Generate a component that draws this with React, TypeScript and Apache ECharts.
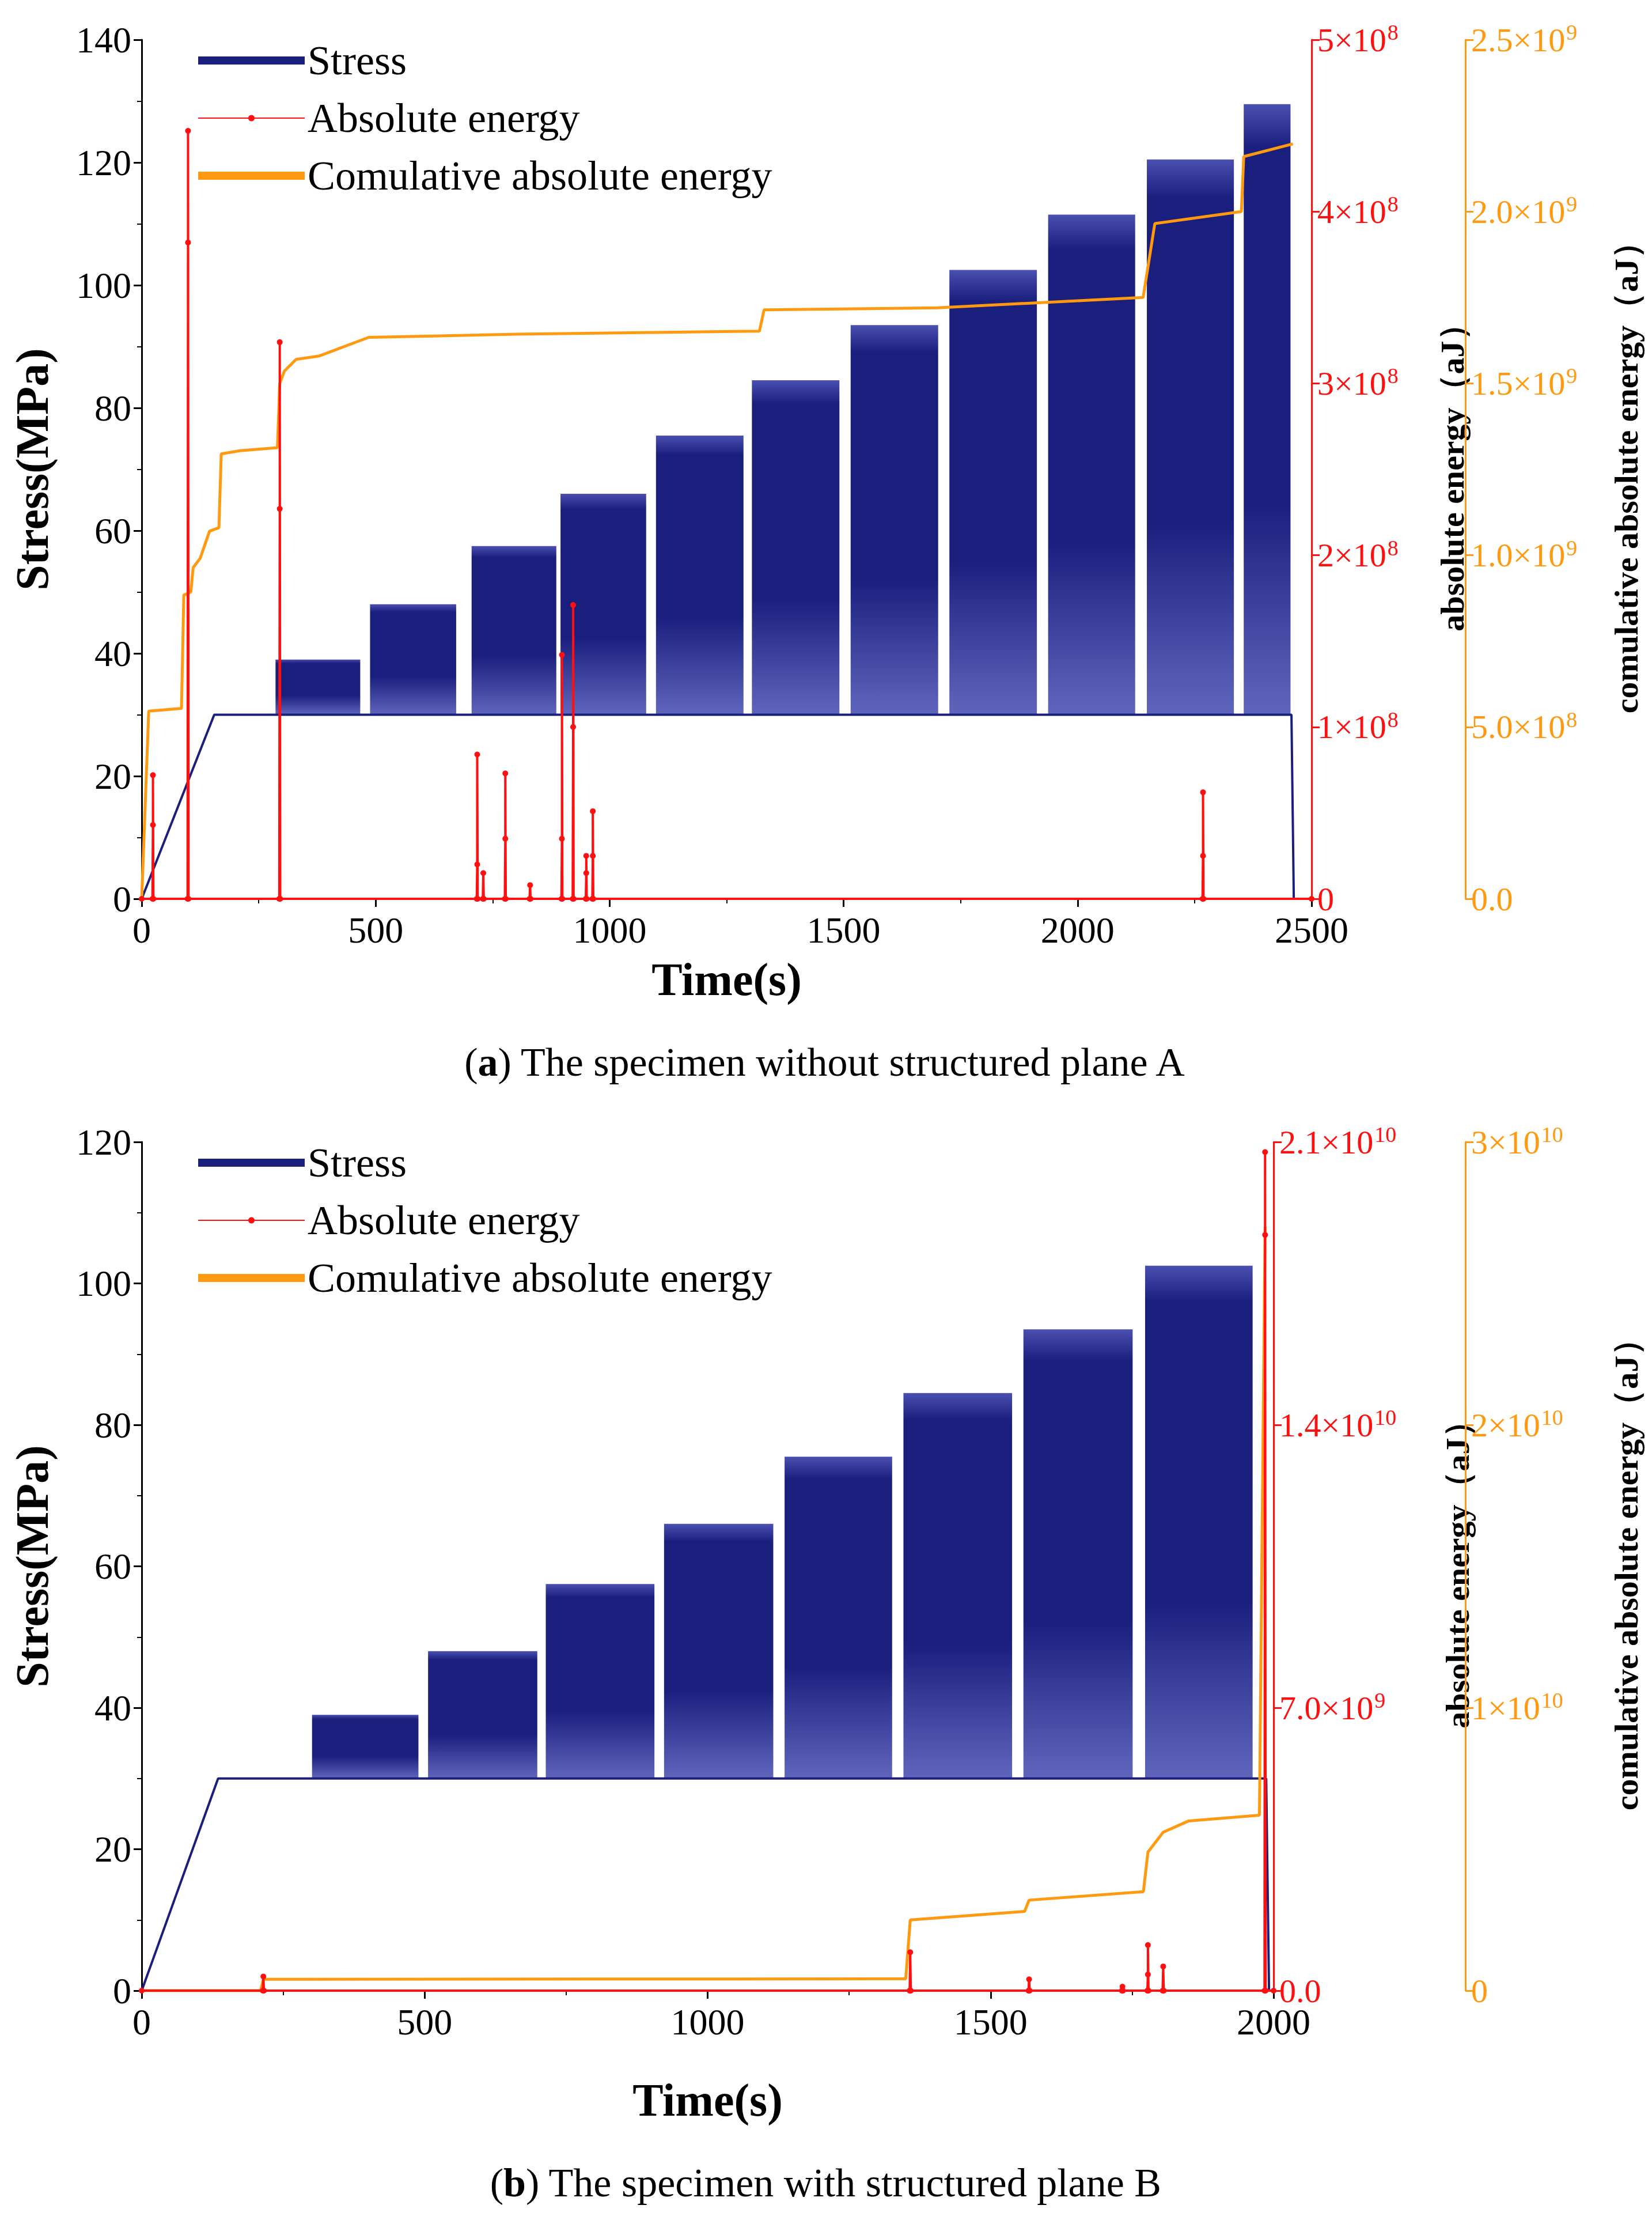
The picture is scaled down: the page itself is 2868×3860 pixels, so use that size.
import { useEffect, useRef } from 'react'
import * as echarts from 'echarts'

// ---- chart A data ----
const stagesA = [
  // start, end, min, max (s, MPa)
  [286, 467, 30, 39], [488, 672, 30, 48], [705, 886, 30, 57.5], [895, 1078, 30, 66],
  [1099, 1286, 30, 75.5], [1304, 1491, 30, 84.5], [1515, 1702, 30, 93.5], [1726, 1913, 30, 102.5],
  [1937, 2123, 30, 111.5], [2148, 2334, 30, 120.5], [2355, 2455, 30, 129.5]
]
const rampEndA = 155
const failA = 2462
const spikeTimesA = [24, 99, 295, 717, 730, 777, 830, 898, 922, 950, 964, 2268]
const spikeValsA = [
  [4.3e7, 7.2e7], [3.82e8, 4.47e8], [2.27e8, 3.24e8], [2.0e7, 8.4e7], [1.5e7], [3.5e7, 7.3e7], [8e6],
  [3.5e7, 1.42e8], [1.0e8, 1.71e8], [1.5e7, 2.5e7], [2.5e7, 5.1e7], [2.5e7, 6.2e7]
]
const cumTimesA = [0, 15, 85, 90, 105, 110, 125, 145, 165, 170, 210, 290, 295, 305, 330, 380, 485, 800, 1320, 1330, 1700, 2140, 2165, 2350, 2355, 2460]
const cumValsA = [0, 5.46e8, 5.54e8, 8.84e8, 8.93e8, 9.64e8, 9.91e8, 1.07e9, 1.08e9, 1.295e9, 1.304e9, 1.313e9, 1.5e9, 1.536e9, 1.57e9, 1.58e9, 1.634e9, 1.643e9, 1.652e9, 1.714e9, 1.72e9, 1.75e9, 1.965e9, 2.0e9, 2.16e9, 2.197e9]

// ---- chart B data ----
const stagesB = [
  [301, 489, 30, 39], [506, 699, 30, 48], [714, 906, 30, 57.5], [923, 1116, 30, 66],
  [1136, 1326, 30, 75.5], [1346, 1538, 30, 84.5], [1558, 1751, 30, 93.5], [1773, 1963, 30, 102.5]
]
const rampEndB = 135
const failB = 1992
const spikeTimesB = [215, 1358, 1568, 1733, 1778, 1805, 1985]
const spikeValsB = [[3.5e8], [9.5e8], [2.8e8], [1.0e8], [4e8, 1.13e9], [6e8], [1.87e10, 2.075e10]]
const cumTimesB = [0, 210, 215, 1350, 1358, 1560, 1568, 1770, 1778, 1805, 1850, 1975, 1985]
const cumValsB = [0, 0, 4e8, 4.2e8, 2.5e9, 2.8e9, 3.2e9, 3.5e9, 4.9e9, 5.6e9, 6.0e9, 6.2e9, 2.7e10]

const FONT = 'Liberation Serif'
const NAVY = '#1a1f7e'
const RED = '#ff1010'
const ORANGE = '#ff9a10'

function sci(v: number, dec: number, zero: string) {
  if (v === 0) return zero
  const e = Math.floor(Math.log10(v) + 1e-9)
  const m = v / Math.pow(10, e)
  return `{m|${m.toFixed(dec)}×10}{s|${e}}`
}

function spikeData(times: number[], vals: number[][], end: number) {
  const d: number[][] = [[0, 0]]
  times.forEach((t, i) => {
    d.push([t - 1, 0])
    vals[i].forEach((v) => d.push([t, v]))
    d.push([t + 1, 0])
  })
  d.push([end, 0])
  return d
}

function stressLine(stages: number[][], rampEnd: number, fail: number) {
  const d: number[][] = [[0, 0], [rampEnd, 30]]
  stages.forEach((s) => {
    d.push([s[0], 30])
    d.push([s[1], 30])
  })
  d.push([fail - 5, 30])
  d.push([fail, 0])
  return d
}

type Cfg = {
  height: number
  top: number
  gridH: number
  gridW: number
  xMax: number
  yMax: number
  xNameGap: number
  redMax: number
  redInt: number
  redDec: number
  redZero: string
  redGap: number
  orMax: number
  orInt: number
  orDec: number
  orZero: string
  orOffset: number
  stages: number[][]
  rampEnd: number
  fail: number
  spT: number[]
  spV: number[][]
  cT: number[]
  cV: number[]
  capBold: string
  capText: string
  capY: number
}

function Panel({ c }: { c: Cfg }) {
  const ref = useRef<HTMLDivElement | null>(null)
  useEffect(() => {
    if (!ref.current) return
    const chart = echarts.init(ref.current, null, { renderer: 'svg' })
    const lbl = { fontFamily: FONT, fontSize: 64, color: '#000' }
    const rich = (col: string) => ({
      m: { fontFamily: FONT, fontSize: 58, color: col },
      s: { fontFamily: FONT, fontSize: 38, color: col, verticalAlign: 'top' as const, padding: [0, 0, 26, 2] }
    })
    const nameStyle = { fontFamily: FONT, fontSize: 64, fontWeight: 'bold' as const, color: '#000' }
    const tick = { show: true, length: 14, lineStyle: { width: 3 } }
    const minor = { show: true, splitNumber: 2, length: 8, lineStyle: { width: 2 } }
    chart.setOption({
      animation: false,
      grid: { left: 226, top: c.top, width: c.gridW, height: c.gridH },
      legend: {
        left: 330,
        top: c.top - 5,
        orient: 'vertical',
        itemWidth: 185,
        itemHeight: 14,
        itemGap: 28,
        textStyle: { fontFamily: FONT, fontSize: 72, color: '#000' },
        data: [
          { name: 'Stress', icon: 'rect', itemStyle: { color: NAVY } },
          { name: 'Absolute energy' },
          { name: 'Comulative absolute energy', icon: 'rect', itemStyle: { color: ORANGE } }
        ]
      },
      xAxis: {
        type: 'value', min: 0, max: c.xMax, interval: 500,
        name: 'Time(s)', nameLocation: 'middle', nameGap: c.xNameGap,
        nameTextStyle: { ...nameStyle, fontSize: 80 },
        axisLine: { lineStyle: { color: '#000', width: 3 } },
        axisTick: tick, minorTick: minor, splitLine: { show: false },
        axisLabel: { ...lbl, margin: 22, formatter: (v: number) => String(v) }
      },
      yAxis: [
        {
          type: 'value', min: 0, max: c.yMax, interval: 20,
          name: 'Stress(MPa)', nameLocation: 'middle', nameGap: 150, nameTextStyle: { ...nameStyle, fontSize: 80 },
          axisLine: { show: true, lineStyle: { color: '#000', width: 3 } },
          axisTick: tick, minorTick: minor, splitLine: { show: false },
          axisLabel: { ...lbl, margin: 18 }
        },
        {
          type: 'value', position: 'right', min: 0, max: c.redMax, interval: c.redInt,
          name: 'absolute energy（aJ）', nameLocation: 'middle', nameGap: c.redGap, nameRotate: 90,
          nameTextStyle: { ...nameStyle, fontSize: 58 },
          axisLine: { show: true, lineStyle: { color: RED, width: 3 } },
          axisTick: tick, splitLine: { show: false },
          axisLabel: { formatter: (v: number) => sci(v, c.redDec, c.redZero), rich: rich(RED), color: RED, fontFamily: FONT, fontSize: 58, margin: 10 }
        },
        {
          type: 'value', position: 'right', offset: c.orOffset, min: 0, max: c.orMax, interval: c.orInt,
          name: 'comulative absolute energy（aJ）', nameLocation: 'middle', nameGap: 250, nameRotate: 90,
          nameTextStyle: { ...nameStyle, fontSize: 58 },
          axisLine: { show: true, lineStyle: { color: ORANGE, width: 3 } },
          axisTick: tick, splitLine: { show: false },
          axisLabel: { formatter: (v: number) => sci(v, c.orDec, c.orZero), rich: rich(ORANGE), color: ORANGE, fontFamily: FONT, fontSize: 58, margin: 10 }
        }
      ],
      graphic: [
        {
          type: 'text', left: 'center', top: c.capY,
          style: {
            text: `({b|${c.capBold}}) ${c.capText}`,
            font: `70px ${FONT}`, fill: '#000',
            rich: { b: { font: `bold 70px ${FONT}`, fill: '#000' } }
          } as any
        }
      ],
      series: [
        {
          name: 'Stress-blocks', type: 'custom', yAxisIndex: 0, z: 2,
          data: c.stages,
          encode: { x: [0, 1], y: [2, 3] },
          renderItem: (_p: any, api: any) => {
            const p0 = api.coord([api.value(0), api.value(3)])
            const p1 = api.coord([api.value(1), api.value(2)])
            return {
              type: 'rect', shape: { x: p0[0], y: p0[1], width: p1[0] - p0[0], height: p1[1] - p0[1] },
              style: {
                fill: new echarts.graphic.LinearGradient(0, 0, 0, 1, [
                  { offset: 0, color: '#4a4fb0' },
                  { offset: 0.07, color: NAVY },
                  { offset: 0.65, color: NAVY },
                  { offset: 1, color: '#6065bc' }
                ])
              }
            }
          }
        },
        {
          name: 'Stress', type: 'line', yAxisIndex: 0, z: 3, showSymbol: false, symbol: 'none',
          color: NAVY, lineStyle: { width: 4, color: NAVY },
          data: stressLine(c.stages, c.rampEnd, c.fail)
        },
        {
          name: 'Absolute energy', type: 'line', yAxisIndex: 1, z: 5,
          symbol: 'circle', symbolSize: 10, color: RED,
          lineStyle: { width: 4, color: RED }, itemStyle: { color: RED },
          data: spikeData(c.spT, c.spV, c.xMax)
        },
        {
          name: 'Comulative absolute energy', type: 'line', yAxisIndex: 2, z: 4, showSymbol: false, symbol: 'none',
          color: ORANGE, lineStyle: { width: 5, color: ORANGE },
          data: c.cT.map((t, i) => [t, c.cV[i]])
        }
      ]
    })
    return () => chart.dispose()
  }, [c])
  return <div ref={ref} style={{ width: 2852, height: c.height }} />
}

const cfgA: Cfg = {
  height: 1900, top: 61, gridH: 1491, gridW: 2049, xMax: 2500, yMax: 140, xNameGap: 100,
  redMax: 5e8, redInt: 1e8, redDec: 0, redZero: '0', redGap: 215,
  orMax: 2.5e9, orInt: 5e8, orDec: 1, orZero: '0.0', orOffset: 267,
  stages: stagesA, rampEnd: rampEndA, fail: failA,
  spT: spikeTimesA, spV: spikeValsA, cT: cumTimesA, cV: cumValsA,
  capBold: 'a', capText: 'The specimen without structured plane A', capY: 1800
}
const cfgB: Cfg = {
  height: 1952, top: 74, gridH: 1473, gridW: 2000, xMax: 2000, yMax: 120, xNameGap: 150,
  redMax: 2.1e10, redInt: 7e9, redDec: 1, redZero: '0.0', redGap: 290,
  orMax: 3e10, orInt: 1e10, orDec: 0, orZero: '0', orOffset: 333,
  stages: stagesB, rampEnd: rampEndB, fail: failB,
  spT: spikeTimesB, spV: spikeValsB, cT: cumTimesB, cV: cumValsB,
  capBold: 'b', capText: 'The specimen with structured plane B', capY: 1845
}

export default function App() {
  return (
    <div style={{ width: 2852, background: '#fff' }}>
      <Panel c={cfgA} />
      <Panel c={cfgB} />
    </div>
  )
}
